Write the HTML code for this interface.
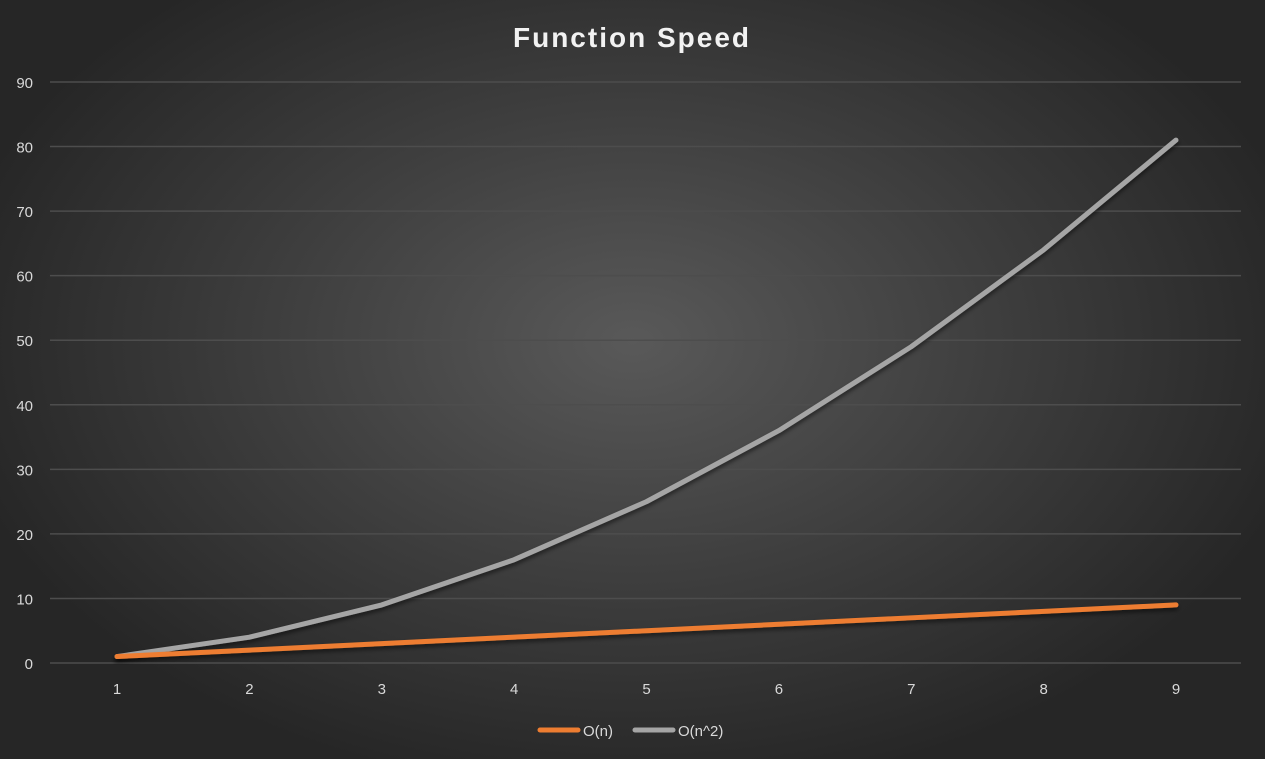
<!DOCTYPE html>
<html><head><meta charset="utf-8"><style>
html,body{margin:0;padding:0;}
body{width:1265px;height:759px;overflow:hidden;background:radial-gradient(ellipse 55% 60% at 50% 45%,#595959 0%,#3f3f3f 50%,#262626 100%);font-family:"Liberation Sans",sans-serif;}
svg{position:absolute;left:0;top:0;}
</style></head><body>
<svg id="chart" width="1265" height="759">
<defs><filter id="sh" x="-5%" y="-5%" width="110%" height="120%"><feDropShadow dx="0" dy="3" stdDeviation="2" flood-color="#000" flood-opacity="0.5"/></filter></defs>
<text x="632" y="47" text-anchor="middle" font-size="28" font-weight="bold" fill="#f2f2f2" letter-spacing="2">Function Speed</text>
<g id="grid"></g><g id="ylab"></g><g id="xlab"></g><g id="series"></g>
<g>
<line x1="540" y1="730" x2="578" y2="730" stroke="#ed7d31" stroke-width="5" stroke-linecap="round"/>
<text x="583" y="736" font-size="15" fill="#d9d9d9">O(n)</text>
<line x1="635" y1="730" x2="673" y2="730" stroke="#a5a5a5" stroke-width="5" stroke-linecap="round"/>
<text x="678" y="736" font-size="15" fill="#d9d9d9">O(n^2)</text>
</g>
</svg>
<script>
const categories=[1,2,3,4,5,6,7,8,9];
const seriesOn=[1,2,3,4,5,6,7,8,9];
const seriesOn2=[1,4,9,16,25,36,49,64,81];
const yTicks=[0,10,20,30,40,50,60,70,80,90];
const NS="http://www.w3.org/2000/svg";
const y=v=>663-v*(581/90);
const x=i=>117+i*(1059/8);
function mk(t,a,p){const e=document.createElementNS(NS,t);for(const k in a)e.setAttribute(k,a[k]);p.appendChild(e);return e;}
const g=document.getElementById('grid'),yl=document.getElementById('ylab'),xl=document.getElementById('xlab'),s=document.getElementById('series');
yTicks.forEach(v=>{
 const l=mk('line',{x1:50,x2:1241,y1:y(v),y2:y(v),stroke:'#4d4d4d','stroke-width':1.5},g);
 
 
 const t=mk('text',{x:33,y:y(v)+6,'text-anchor':'end','font-size':15,fill:'#d9d9d9'},yl);t.textContent=v;
 
 
});
categories.forEach((c,i)=>{
 const t=mk('text',{x:x(i),y:694,'text-anchor':'middle','font-size':15,fill:'#d9d9d9'},xl);t.textContent=c;
 
 
});
function line(data,color,name){
 const p=mk('polyline',{points:data.map((v,i)=>x(i)+','+y(v)).join(' '),fill:'none',stroke:color,'stroke-width':5,'stroke-linecap':'round','stroke-linejoin':'round',filter:'url(#sh)'},s);
 
 
}
line(seriesOn2,'#a5a5a5','series-on2-line');
line(seriesOn,'#ed7d31','series-on-line');
</script>
</body></html>
